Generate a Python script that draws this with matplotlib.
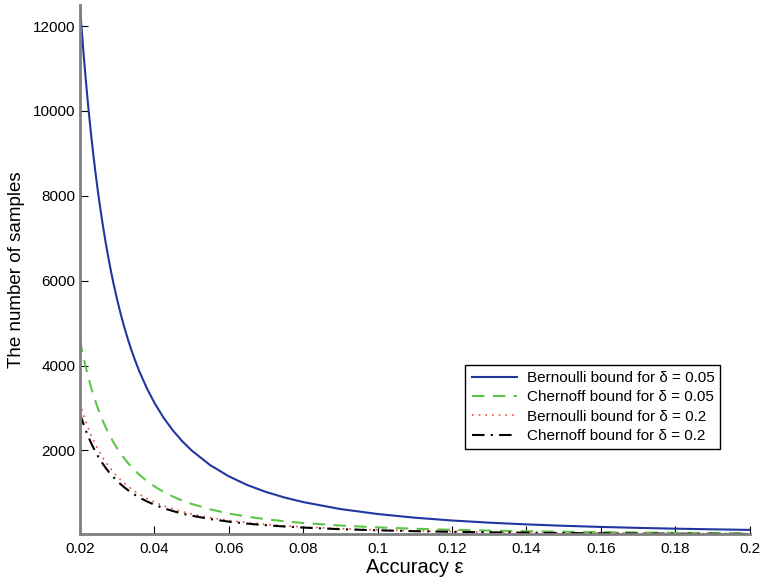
#!/usr/bin/env python3
"""Number of samples needed vs. accuracy, Bernoulli and Chernoff bounds."""

import matplotlib
matplotlib.use('Agg')
import matplotlib.pyplot as plt

# accuracy values (x axis)
eps = [0.02, 0.0205, 0.021, 0.0215, 0.022, 0.0225, 0.023, 0.0235, 0.024, 0.0245,
       0.025, 0.026, 0.027, 0.028, 0.029, 0.03, 0.031, 0.032, 0.033, 0.034,
       0.035, 0.036, 0.038, 0.04, 0.0425, 0.045, 0.0475, 0.05, 0.055, 0.06,
       0.065, 0.07, 0.075, 0.08, 0.09, 0.1, 0.11, 0.12, 0.13, 0.14,
       0.15, 0.16, 0.17, 0.18, 0.19, 0.2]

# number of samples
bern_005 = [12500, 11898, 11338, 10817, 10331, 9877, 9452, 9054, 8681, 8330,
            8000, 7396, 6859, 6378, 5945, 5556, 5203, 4883, 4591, 4325,
            4082, 3858, 3463, 3125, 2768, 2469, 2216, 2000, 1653, 1389,
            1183, 1020, 889, 781, 617, 500, 413, 347, 296, 255,
            222, 195, 173, 154, 139, 125]
chern_005 = [4611, 4389, 4182, 3990, 3811, 3643, 3487, 3340, 3202, 3073,
             2951, 2728, 2530, 2353, 2193, 2049, 1919, 1801, 1694, 1596,
             1506, 1423, 1277, 1153, 1021, 911, 817, 738, 610, 512,
             437, 376, 328, 288, 228, 184, 152, 128, 109, 94,
             82, 72, 64, 57, 51, 46]
bern_02 = [3125, 2974, 2834, 2704, 2583, 2469, 2363, 2263, 2170, 2082,
           2000, 1849, 1715, 1594, 1486, 1389, 1301, 1221, 1148, 1081,
           1020, 965, 866, 781, 692, 617, 554, 500, 413, 347,
           296, 255, 222, 195, 154, 125, 103, 87, 74, 64,
           56, 49, 43, 39, 35, 31]
chern_02 = [2878, 2740, 2611, 2491, 2379, 2274, 2176, 2085, 1999, 1918,
            1842, 1703, 1579, 1468, 1369, 1279, 1198, 1124, 1057, 996,
            940, 888, 797, 720, 637, 569, 510, 461, 381, 320,
            272, 235, 205, 180, 142, 115, 95, 80, 68, 59,
            51, 45, 40, 36, 32, 29]

labels = ['Bernoulli bound for δ = 0.05', 'Chernoff bound for δ = 0.05',
          'Bernoulli bound for δ = 0.2', 'Chernoff bound for δ = 0.2']
xticks = [0.02, 0.04, 0.06, 0.08, 0.1, 0.12, 0.14, 0.16, 0.18, 0.2]
xticklabels = ['0.02', '0.04', '0.06', '0.08', '0.1', '0.12', '0.14', '0.16', '0.18', '0.2']
yticks = [2000, 4000, 6000, 8000, 10000, 12000]

plt.rcParams['font.family'] = ['Liberation Sans', 'DejaVu Sans']

fig = plt.figure(figsize=(7.61, 5.82), dpi=100)
ax = fig.add_axes([0.105, 0.0825, 0.88, 0.909])

ax.plot(eps, bern_005, color='#2236a0', linewidth=1.5, label=labels[0])
ax.plot(eps, chern_005, color='#5cc64a', linewidth=1.5, linestyle=(0, (6, 4)), label=labels[1])
ax.plot(eps, bern_02, color='#f04a3a', linewidth=1.2, linestyle=(0, (1, 3)), label=labels[2])
ax.plot(eps, chern_02, color='black', linewidth=1.5, linestyle=(0, (6, 3, 1, 3)), label=labels[3])

ax.set_xlim(0.02, 0.2)
ax.set_ylim(28.8, 12500)
ax.set_xticks(xticks)
ax.set_xticklabels(xticklabels)
ax.set_yticks(yticks)
ax.tick_params(direction='in', length=6, labelsize=11, colors='black')
ax.tick_params(axis='x', pad=6)
ax.tick_params(axis='y', pad=3)

for side in ['top', 'right']:
    ax.spines[side].set_visible(False)
for side in ['left', 'bottom']:
    ax.spines[side].set_color('#7f7f7f')
    ax.spines[side].set_linewidth(2)

ax.set_xlabel('Accuracy ε', fontsize=14.5, labelpad=1)
ax.set_ylabel('The number of samples', fontsize=13.5, labelpad=6)

leg = ax.legend(loc='center', bbox_to_anchor=(0.766, 0.24), fontsize=11,
                handlelength=3.0, fancybox=False, framealpha=1,
                edgecolor='black', borderpad=0.4, labelspacing=0.35,
                handletextpad=0.6)
leg.get_frame().set_linewidth(1.0)

plt.savefig('out.png', dpi=100)
plt.close()
